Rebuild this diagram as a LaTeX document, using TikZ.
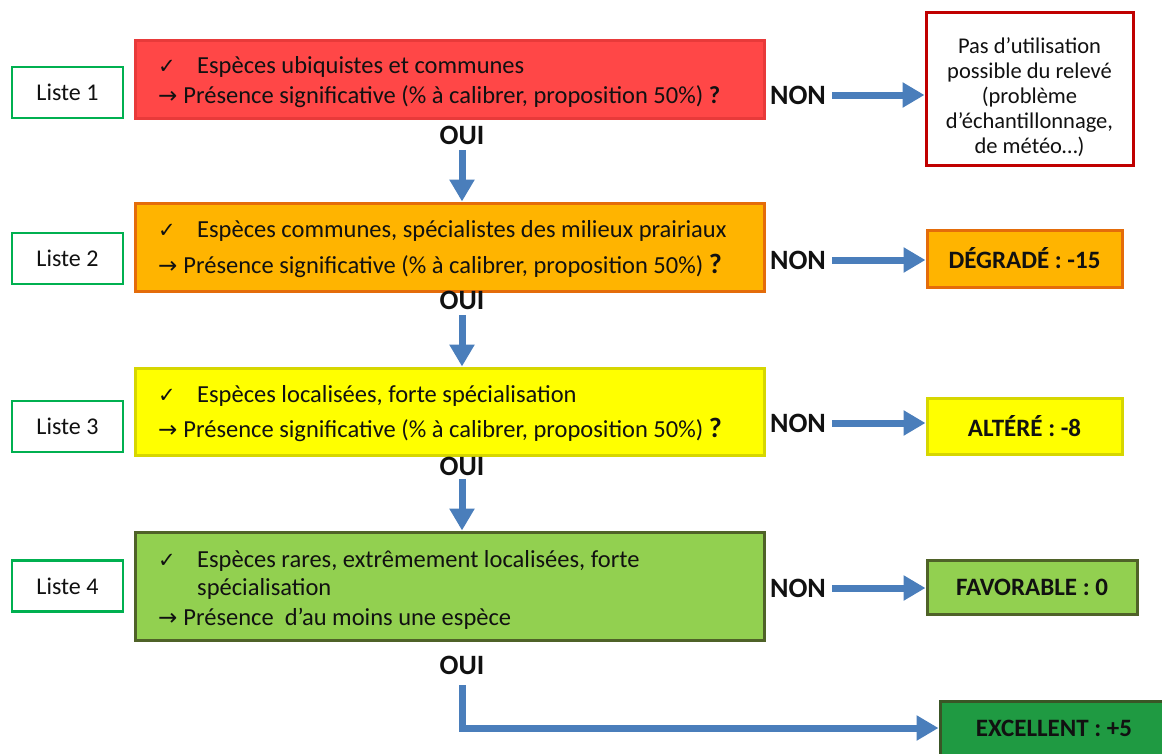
\documentclass[tikz,border=0pt]{standalone}
\usepackage{fontspec}
\setmainfont{Carlito}
\newfontfamily\symfont{DejaVu Sans}
\usetikzlibrary{arrows.meta,calc}
\definecolor{ink}{HTML}{111111}
\definecolor{listeGreen}{HTML}{00B050}
\definecolor{redFill}{HTML}{FF4747}
\definecolor{redLine}{HTML}{E83A3A}
\definecolor{orangeFill}{HTML}{FFB400}
\definecolor{orangeLine}{HTML}{E46C0A}
\definecolor{yellowFill}{HTML}{FFFF00}
\definecolor{yellowLine}{HTML}{D6D600}
\definecolor{greenFill}{HTML}{92D050}
\definecolor{greenLine}{HTML}{4F6228}
\definecolor{deepFill}{HTML}{1F9A42}
\definecolor{deepLine}{HTML}{3A5526}
\definecolor{pasLine}{HTML}{C00000}
\definecolor{flowBlue}{HTML}{4A7EBB}
\tikzset{
  px/.style={x=1pt, y=-1pt},
  lst/.style={draw=listeGreen, fill=white, line width=2.5pt, minimum width=111pt, minimum height=51pt, inner sep=0pt, font=\fontsize{24}{28}\selectfont, text=ink},
  crit/.style={line width=3pt, minimum width=629pt, inner sep=0pt},
  res/.style={line width=3pt, inner sep=0pt, font=\fontsize{25}{30}\selectfont\bfseries, text=ink},
  flow/.style={draw=flowBlue, line width=7pt, -{Triangle[length=22pt,width=24pt]}},
  t/.style={inner sep=0pt, anchor=base west, font=\fontsize{24.5}{28}\selectfont, text=ink},
  tc/.style={inner sep=0pt, align=center, font=\fontsize{22.5}{25}\selectfont, text=ink},
  tb/.style={inner sep=0pt, font=\fontsize{28}{32}\selectfont\bfseries, text=ink},
}
\newcommand{\chk}{{\symfont\fontsize{21}{24}\selectfont ✓}}
\newcommand{\arr}{{\symfont\fontsize{23}{24}\selectfont →}\hspace{6pt}}

\begin{document}
\begin{tikzpicture}[px]
  \useasboundingbox (0,0) rectangle (1162,753);

  % listes
  \node[lst] (l1) at (67.5,92.5) {Liste 1};
  \node[lst] (l2) at (67.5,258.5) {Liste 2};
  \node[lst] (l3) at (67.5,426.5) {Liste 3};
  \node[lst] (l4) at (67.5,586) {Liste 4};

  % criteres
  \node[crit, draw=redLine, fill=redFill, minimum height=78pt] (c1) at (449.5,79) {};
  \node[t] (c1k) at (158,73) {\chk}; \node[t] (c1a) at (197,73) {Espèces ubiquistes et communes};
  \node[t] (c1b) at (158,103) {\arr Présence significative (\% à calibrer, proposition 50\%) {\bfseries ?}};

  \node[crit, draw=orangeLine, fill=orangeFill, minimum height=88pt] (c2) at (449.5,247) {};
  \node[t] (c2k) at (158,237) {\chk}; \node[t] (c2a) at (197,237) {Espèces communes, spécialistes des milieux prairiaux};
  \node[t] (c2b) at (158,273) {\arr Présence significative (\% à calibrer, proposition 50\%) {\fontsize{28}{30}\selectfont\bfseries ?}};

  \node[crit, draw=yellowLine, fill=yellowFill, minimum height=87pt] (c3) at (449.5,411.5) {};
  \node[t] (c3k) at (158,402) {\chk}; \node[t] (c3a) at (197,402) {Espèces localisées, forte spécialisation};
  \node[t] (c3b) at (158,437) {\arr Présence significative (\% à calibrer, proposition 50\%) {\fontsize{28}{30}\selectfont\bfseries ?}};

  \node[crit, draw=greenLine, fill=greenFill, minimum height=108pt] (c4) at (449.5,586) {};
  \node[t] (c4k) at (158,567) {\chk}; \node[t] (c4a) at (197,567) {Espèces rares, extrêmement localisées, forte};
  \node[t] (c4b) at (197,595) {spécialisation};
  \node[t] (c4c) at (158,625) {\arr Présence~ d’au moins une espèce};

  % resultats
  \node[res, draw=pasLine, fill=white, minimum width=207pt, minimum height=153pt] (r1) at (1029.5,89) {};
  \node[tc] (r1t) at (1029.5,97) {Pas d’utilisation\\possible du relevé\\(problème\\d’échantillonnage,\\de météo…)};
  \node[res, draw=orangeLine, fill=orangeFill, minimum width=195pt, minimum height=57pt] (r2) at (1024.5,258.5) {DÉGRADÉ : -15};
  \node[res, draw=yellowLine, fill=yellowFill, minimum width=195pt, minimum height=56pt] (r3) at (1024.5,426) {ALTÉRÉ : -8};
  \node[res, draw=greenLine, fill=greenFill, minimum width=210pt, minimum height=54pt] (r4) at (1032,587) {FAVORABLE : 0};
  \node[res, draw=deepLine, fill=deepFill, minimum width=228pt, minimum height=54pt] (r5) at (1054,728) {EXCELLENT : +5};

  % NON
  \node[tb] (n1) at (798,95) {NON};
  \node[tb] (n2) at (798,260) {NON};
  \node[tb] (n3) at (798,423) {NON};
  \node[tb] (n4) at (798,588) {NON};
  \draw[flow] ([xshift=6pt]n1.east) -- (n1.east -| r1.west);
  \draw[flow] ([xshift=6pt]n2.east) -- (n2.east -| r2.west);
  \draw[flow] ([xshift=6pt]n3.east) -- (n3.east -| r3.west);
  \draw[flow] ([xshift=6pt]n4.east) -- (n4.east -| r4.west);

  % OUI
  \node[tb] (o1) at (462,135) {OUI};
  \node[tb] (o2) at (462,300) {OUI};
  \node[tb] (o3) at (462,466) {OUI};
  \node[tb] (o4) at (462,665) {OUI};
  \draw[flow] ([yshift=-6pt]o1.south) -- (o1.south |- c2.north);
  \draw[flow] ([yshift=-6pt]o2.south) -- (o2.south |- c3.north);
  \draw[flow] ([yshift=-4pt]o3.south) -- (o3.south |- c4.north);
  \draw[flow] ([yshift=-11pt]o4.south) |- (r5.west);
\end{tikzpicture}
\end{document}
